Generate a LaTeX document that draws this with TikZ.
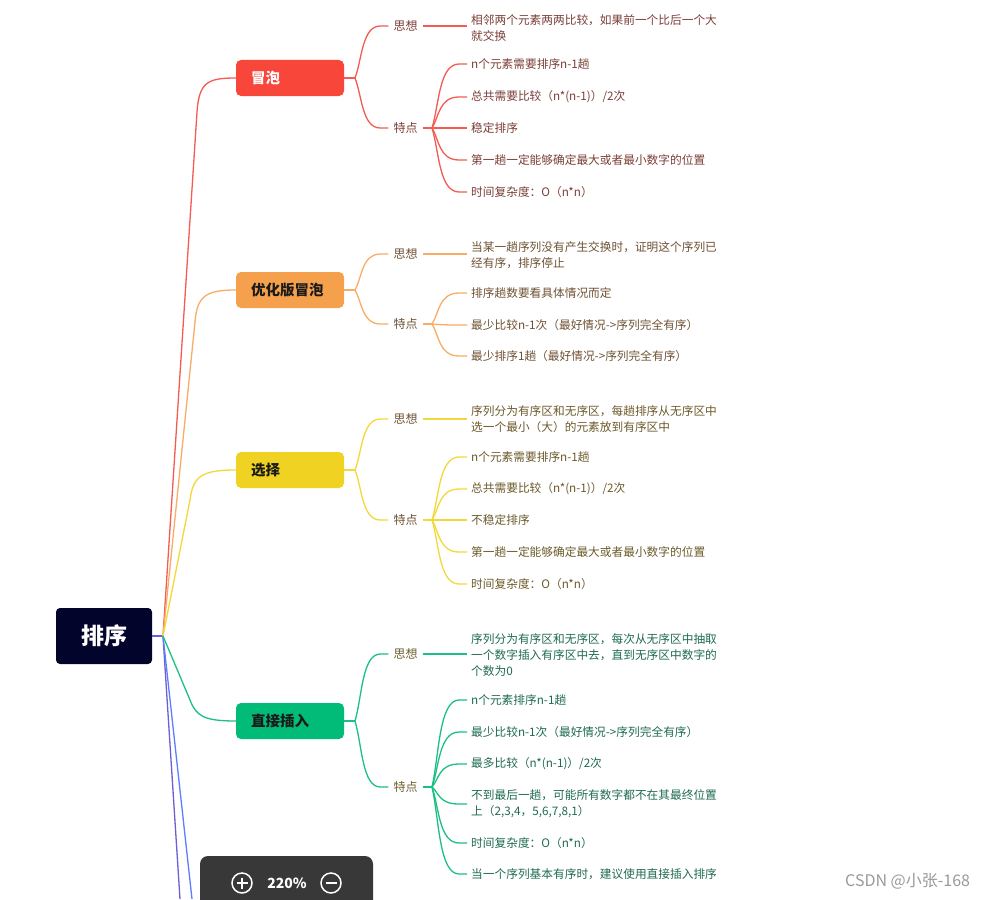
\documentclass[tikz,border=0pt]{standalone}
\usepackage{fontspec}
\setmainfont{Noto Sans CJK SC}
\usetikzlibrary{calc}
\definecolor{rootc}{HTML}{03042B}
\definecolor{redc}{HTML}{F9463B}
\definecolor{redl}{HTML}{F45B52}
\definecolor{orangec}{HTML}{F5A04C}
\definecolor{orangel}{HTML}{F7AD66}
\definecolor{yellowc}{HTML}{F0D322}
\definecolor{yellowl}{HTML}{F3D83A}
\definecolor{greenc}{HTML}{00BC78}
\definecolor{greenl}{HTML}{1DC084}
\definecolor{purplel}{HTML}{6A60D2}
\definecolor{bluel}{HTML}{5C7DFF}
\definecolor{redt}{HTML}{7B3E38}
\definecolor{oranget}{HTML}{6F5234}
\definecolor{yellowt}{HTML}{6C5A2A}
\definecolor{greent}{HTML}{1F6B50}
\definecolor{greenlab}{HTML}{6E5F2E}
\definecolor{panelc}{HTML}{383838}
\definecolor{wmc}{HTML}{9A9A9A}
\definecolor{brtext}{HTML}{1A1A1A}
\newcommand\mmconn[3]{%
  \draw[#1] let \p1=(#2), \p2=(#3) in (\p1) .. controls ({\x1+7pt},{\y1+0.35*(\y2-\y1)}) and ({\x1+7pt},\y2) .. ({\x2-8pt},\y2) -- (\p2);}
\begin{document}
\begin{tikzpicture}[x=1pt,y=-1pt,
  rootbox/.style={fill=rootc, rounded corners=4pt, minimum width=96pt, minimum height=56pt, text=white, inner sep=0pt, font=\fontsize{23}{26}\selectfont\bfseries},
  brbox/.style={rounded corners=5pt, minimum height=36pt, text width=78pt, inner xsep=15pt, inner ysep=0pt, align=left, font=\fontsize{14.5}{17}\selectfont\bfseries},
  lab/.style={inner xsep=5pt, inner ysep=1pt, font=\fontsize{12}{14}\selectfont},
  leaf/.style={anchor=west, inner xsep=4pt, inner ysep=1pt, align=left, font=\fontsize{11.7}{16}\selectfont},
  ln/.style={line width=1.3pt}]
\useasboundingbox (0,0) rectangle (987,899);
\fill[white] (0,0) rectangle (987,899);

% root
\node[rootbox] (root) at (104,636) {排序};
\coordinate (jr) at (163,636);
\coordinate (pe) at (180,899);
\coordinate (be) at (192,899);

% ---------- branch 1 : red ----------
\node[brbox, fill=redc, text=white] (b1) at (290,78) {冒泡};
\coordinate (b1j) at (355,78);
\node[lab, text=redt] (s1) at (405.5,26) {思想};
\node[lab, text=redt] (t1) at (405.5,128) {特点};
\coordinate (t1j) at (432,128);
\node[leaf, text=redt] (l10) at (467,28) {相邻两个元素两两比较，如果前一个比后一个大\\就交换};
\node[leaf, text=redt] (l11) at (467,64) {n个元素需要排序n-1趟};
\node[leaf, text=redt] (l12) at (467,97) {总共需要比较（n*(n-1)）/2次};
\node[leaf, text=redt] (l13) at (467,128) {稳定排序};
\node[leaf, text=redt] (l14) at (467,160) {第一趟一定能够确定最大或者最小数字的位置};
\node[leaf, text=redt] (l15) at (467,192) {时间复杂度：O（n*n）};

% ---------- branch 2 : orange ----------
\node[brbox, fill=orangec, text=brtext] (b2) at (290,290) {优化版冒泡};
\coordinate (b2j) at (355,290);
\node[lab, text=oranget] (s2) at (405.5,254) {思想};
\node[lab, text=oranget] (t2) at (405.5,324) {特点};
\coordinate (t2j) at (432,324);
\node[leaf, text=oranget] (l20) at (467,255) {当某一趟序列没有产生交换时，证明这个序列已\\经有序，排序停止};
\node[leaf, text=oranget] (l21) at (467,293) {排序趟数要看具体情况而定};
\node[leaf, text=oranget] (l22) at (467,325) {最少比较n-1次（最好情况->序列完全有序）};
\node[leaf, text=oranget] (l23) at (467,356) {最少排序1趟（最好情况->序列完全有序）};

% ---------- branch 3 : yellow ----------
\node[brbox, fill=yellowc, text=brtext] (b3) at (290,470) {选择};
\coordinate (b3j) at (355,470);
\node[lab, text=oranget] (s3) at (405.5,419) {思想};
\node[lab, text=oranget] (t3) at (405.5,520) {特点};
\coordinate (t3j) at (432,520);
\node[leaf, text=yellowt] (l30) at (467,419) {序列分为有序区和无序区，每趟排序从无序区中\\选一个最小（大）的元素放到有序区中};
\node[leaf, text=yellowt] (l31) at (467,457) {n个元素需要排序n-1趟};
\node[leaf, text=yellowt] (l32) at (467,489) {总共需要比较（n*(n-1)）/2次};
\node[leaf, text=yellowt] (l33) at (467,520) {不稳定排序};
\node[leaf, text=yellowt] (l34) at (467,552) {第一趟一定能够确定最大或者最小数字的位置};
\node[leaf, text=yellowt] (l35) at (467,584) {时间复杂度：O（n*n）};

% ---------- branch 4 : green ----------
\node[brbox, fill=greenc, text=brtext] (b4) at (290,721) {直接插入};
\coordinate (b4j) at (355,721);
\node[lab, text=greenlab] (s4) at (405.5,654) {思想};
\node[lab, text=greenlab] (t4) at (405.5,787) {特点};
\coordinate (t4j) at (432,787);
\node[leaf, text=greent] (l40) at (467,655) {序列分为有序区和无序区，每次从无序区中抽取\\一个数字插入有序区中去，直到无序区中数字的\\个数为0};
\node[leaf, text=greent] (l41) at (467,700) {n个元素排序n-1趟};
\node[leaf, text=greent] (l42) at (467,732) {最少比较n-1次（最好情况->序列完全有序）};
\node[leaf, text=greent] (l43) at (467,764) {最多比较（n*(n-1)）/2次};
\node[leaf, text=greent] (l44) at (467,804) {不到最后一趟，可能所有数字都不在其最终位置\\上（2,3,4，5,6,7,8,1）};
\node[leaf, text=greent] (l45) at (467,843) {时间复杂度：O（n*n）};
\node[leaf, text=greent] (l46) at (467,874) {当一个序列基本有序时，建议使用直接插入排序};

% ---------- connectors from root ----------
\draw[ln, purplel] (root.east) -- (jr);
\draw[ln, purplel] (jr) -- (pe);
\draw[ln, bluel] (jr) -- (be);
\draw[ln, redl] (jr) -- (197,112) .. controls (199,82) and (208,78) .. (b1.west);
\draw[ln, orangel] (jr) -- (195,322) .. controls (197,296) and (206,290) .. (b2.west);
\draw[ln, yellowl] (jr) -- (190,500) .. controls (193,476) and (202,470) .. (b3.west);
\draw[ln, greenl] (jr) -- (190,700) .. controls (196,716) and (204,721) .. (b4.west);

% ---------- branch connectors ----------
\foreach \i/\c/\n in {1/redl/5, 2/orangel/3, 3/yellowl/5, 4/greenl/6}{
  \draw[ln, \c] (b\i.east) -- (b\i j);
  \mmconn{ln,\c}{b\i j}{s\i.west}
  \mmconn{ln,\c}{b\i j}{t\i.west}
  \draw[ln, \c] (s\i.east) -- (s\i.east -| l\i0.west);
  \draw[ln, \c] (t\i.east) -- (t\i j);
  \foreach \k in {1,...,\n}{
    \mmconn{ln,\c}{t\i j}{l\i\k.west}
  }
}

% ---------- zoom panel overlay ----------
\fill[panelc, rounded corners=8pt] (200,856) rectangle (373,915);
\node[circle, draw=white, line width=1.5pt, minimum size=20pt, inner sep=0pt] (zin) at (242,883) {};
\draw[white, line width=1.5pt] ($(zin)+(-5.5,0)$) -- ($(zin)+(5.5,0)$);
\draw[white, line width=1.5pt] ($(zin)+(0,-5.5)$) -- ($(zin)+(0,5.5)$);
\node[text=white, font=\fontsize{14}{16}\selectfont\bfseries] (zpct) at (287,883) {220\%};
\node[circle, draw=white, line width=1.5pt, minimum size=20pt, inner sep=0pt] (zout) at (331,883) {};
\draw[white, line width=1.5pt] ($(zout)+(-5.5,0)$) -- ($(zout)+(5.5,0)$);

% watermark
\node[anchor=west, text=wmc, inner sep=0pt, font=\fontsize{16}{18}\selectfont] (wm) at (845,881) {CSDN @小张-168};
\end{tikzpicture}
\end{document}
